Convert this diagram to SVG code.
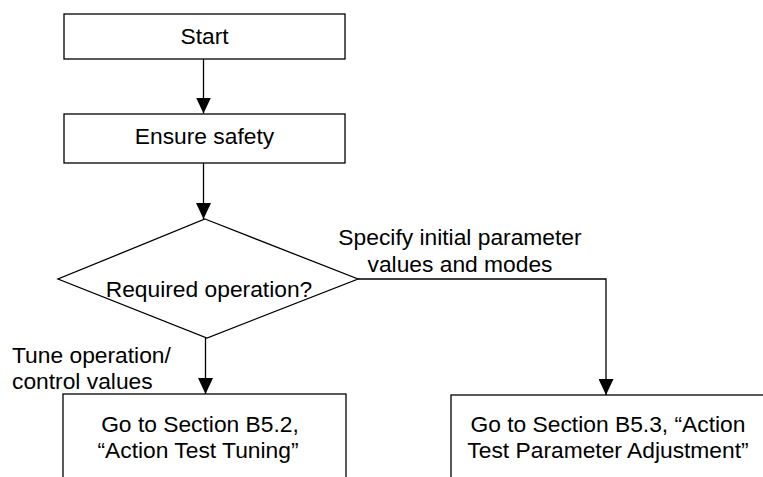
<svg xmlns="http://www.w3.org/2000/svg" width="763" height="477" viewBox="0 0 763 477">
<style>
.box{fill:#fff;stroke:#000;stroke-width:1.3}
.ln{fill:none;stroke:#000;stroke-width:1.3}
text{font-family:"Liberation Sans",Arial,sans-serif;font-size:22.8px;fill:#000}
.c{text-anchor:middle}
</style>
<defs>
<marker id="ah" markerWidth="16" markerHeight="15" refX="16" refY="7.5" orient="auto" markerUnits="userSpaceOnUse" viewBox="0 0 16 15">
<path d="M0,0 L16,7.5 L0,15 Z" fill="#000"/>
</marker>
</defs>
<g id="connectors">
<line class="ln" x1="203.5" y1="59" x2="203.5" y2="113.5" marker-end="url(#ah)"/>
<line class="ln" x1="203.5" y1="163" x2="203.5" y2="219" marker-end="url(#ah)"/>
<line class="ln" x1="205.5" y1="338" x2="205.5" y2="394" marker-end="url(#ah)"/>
<polyline class="ln" points="358,279 606,279 606,395" marker-end="url(#ah)"/>
<text x="460" y="245" class="c">Specify initial parameter</text>
<text x="460" y="272" class="c">values and modes</text>
<text x="12" y="363">Tune operation/</text>
<text x="12" y="389">control values</text>
</g>
<g id="start">
<rect class="box" x="64" y="14" width="281" height="45"/>
<text x="204.5" y="44" class="c">Start</text>
</g>
<g id="ensure">
<rect class="box" x="64" y="114" width="281" height="49"/>
<text x="204.5" y="144" class="c">Ensure safety</text>
</g>
<g id="decision">
<polygon class="box" points="205,219 358,279 207,338 58,279"/>
<text x="209" y="297" class="c">Required operation?</text>
</g>
<g id="tuning">
<rect class="box" x="63" y="394" width="283" height="100"/>
<text x="200" y="432" class="c">Go to Section B5.2,</text>
<text x="198" y="458" class="c">“Action Test Tuning”</text>
</g>
<g id="adjust">
<rect class="box" x="451" y="395" width="330" height="100"/>
<text x="608" y="432" class="c">Go to Section B5.3, “Action</text>
<text x="608" y="458" class="c">Test Parameter Adjustment”</text>
</g>
</svg>
